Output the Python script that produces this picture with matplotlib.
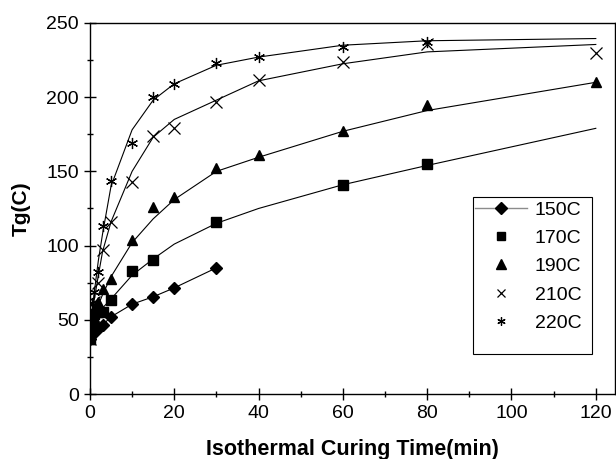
import numpy as np
import matplotlib
matplotlib.use("Agg")
import matplotlib.pyplot as plt
from matplotlib.lines import Line2D
from matplotlib.patches import Rectangle

# measured points (time in min, Tg in C)
t150 = [0, 0.5, 1, 2, 3, 5, 10, 15, 20, 30]
tg150 = [37, 40, 42, 44, 46.5, 52, 60.5, 65.5, 71.5, 85]

t170 = [0, 0.5, 1, 2, 3, 5, 10, 15, 30, 60, 80]
tg170 = [37, 45, 54, 55, 55, 63, 83, 90, 116, 141, 155]

t190 = [0, 1, 2, 3, 5, 10, 15, 20, 30, 40, 60, 80, 120]
tg190 = [37, 52, 62, 70.5, 77.5, 104, 126, 133, 152.5, 161, 177, 195, 210.5]

t210 = [0, 0.5, 1, 2, 3, 5, 10, 15, 20, 30, 40, 60, 80, 120]
tg210 = [37, 50, 62, 75, 97, 116, 143, 174, 179.5, 197, 211.5, 224, 236, 229.5]

t220 = [0, 0.5, 1, 2, 3, 5, 10, 15, 20, 30, 40, 60, 80]
tg220 = [37, 61, 69, 82, 113, 143.5, 169, 200, 209, 223, 227, 234, 237.5]

# fitted curves
ft170 = [0, 1, 2, 3, 5, 10, 15, 20, 30, 40, 60, 80, 120]
fg170 = [40, 54, 56, 58, 64, 80, 91, 101, 115, 125, 141, 154, 179]

ft190 = [0, 1, 2, 3, 5, 10, 15, 20, 30, 40, 60, 80, 120]
fg190 = [40, 52, 60, 67, 79, 102, 118, 131, 150, 159.5, 177, 191, 210]

ft210 = [0, 0.5, 1, 2, 3, 5, 10, 15, 20, 30, 40, 60, 80, 120]
fg210 = [40, 52, 63, 80, 96, 116, 150, 173, 185, 198, 211, 222.5, 230.5, 235.5]

ft220 = [0, 0.5, 1, 2, 3, 5, 10, 15, 20, 30, 40, 60, 80, 120]
fg220 = [40, 55, 68, 90, 108, 140, 178, 198, 209, 221.5, 227, 235, 238, 239.5]

labels = ['150C', '170C', '190C', '210C', '220C']

plt.rcParams['font.family'] = ['Liberation Sans', 'DejaVu Sans']

fig = plt.figure(figsize=(6.16, 4.59), dpi=100)
ax = fig.add_axes([0.146, 0.1416, 0.852, 0.8084])

lw = 0.8
star = (6, 2, 0)
ax.plot(t150, tg150, '-', color='k', lw=lw, marker='D', ms=6)

ax.plot(ft170, fg170, '-', color='k', lw=lw)
ax.plot(t170, tg170, 's', color='k', ms=6.5)

ax.plot(ft190, fg190, '-', color='k', lw=lw)
ax.plot(t190, tg190, '^', color='k', ms=7.5)

ax.plot(ft210, fg210, '-', color='k', lw=lw)
ax.plot(t210, tg210, 'x', color='k', ms=8, mew=0.9)

ax.plot(ft220, fg220, '-', color='k', lw=lw)
ax.plot(t220, tg220, marker=star, color='k', ms=8, mew=0.9, ls='none')

ax.set_xlim(0, 124.5)
ax.set_ylim(0, 250)
ax.set_xticks(np.arange(0, 121, 20))
ax.set_xticks(np.arange(10, 121, 20), minor=True)
ax.set_yticks(np.arange(0, 251, 50))
ax.set_yticks(np.arange(25, 250, 50), minor=True)
ax.tick_params(which='major', direction='inout', length=9, width=1, labelsize=14)
ax.tick_params(which='minor', direction='inout', length=5, width=1)
for s in ax.spines.values():
    s.set_linewidth(1)

ax.set_xlabel('Isothermal Curing Time(min)', fontsize=15.5, fontweight='bold', labelpad=12)
ax.set_ylabel('Tg(C)', fontsize=15, fontweight='bold', labelpad=11)

handles = [
    Line2D([], [], color='0.55', lw=1, marker='D', ms=6, mfc='k', mec='k'),
    Line2D([], [], ls='none', marker='s', ms=6, color='k'),
    Line2D([], [], ls='none', marker='^', ms=7, color='k'),
    Line2D([], [], ls='none', marker='x', ms=6, mew=0.9, color='k'),
    Line2D([], [], ls='none', marker=star, ms=6, mew=0.9, color='k'),
]
leg = ax.legend(handles, labels, loc='upper left', bbox_to_anchor=(0.733, 0.52),
                fontsize=14, frameon=False, borderpad=0, borderaxespad=0,
                handlelength=2.7, handletextpad=0.4, labelspacing=0.55)
ax.add_patch(Rectangle((0.7295, 0.108), 0.2265, 0.423, transform=ax.transAxes,
                       fill=False, edgecolor='k', lw=0.8, zorder=5))

fig.savefig('out.png', dpi=100)
